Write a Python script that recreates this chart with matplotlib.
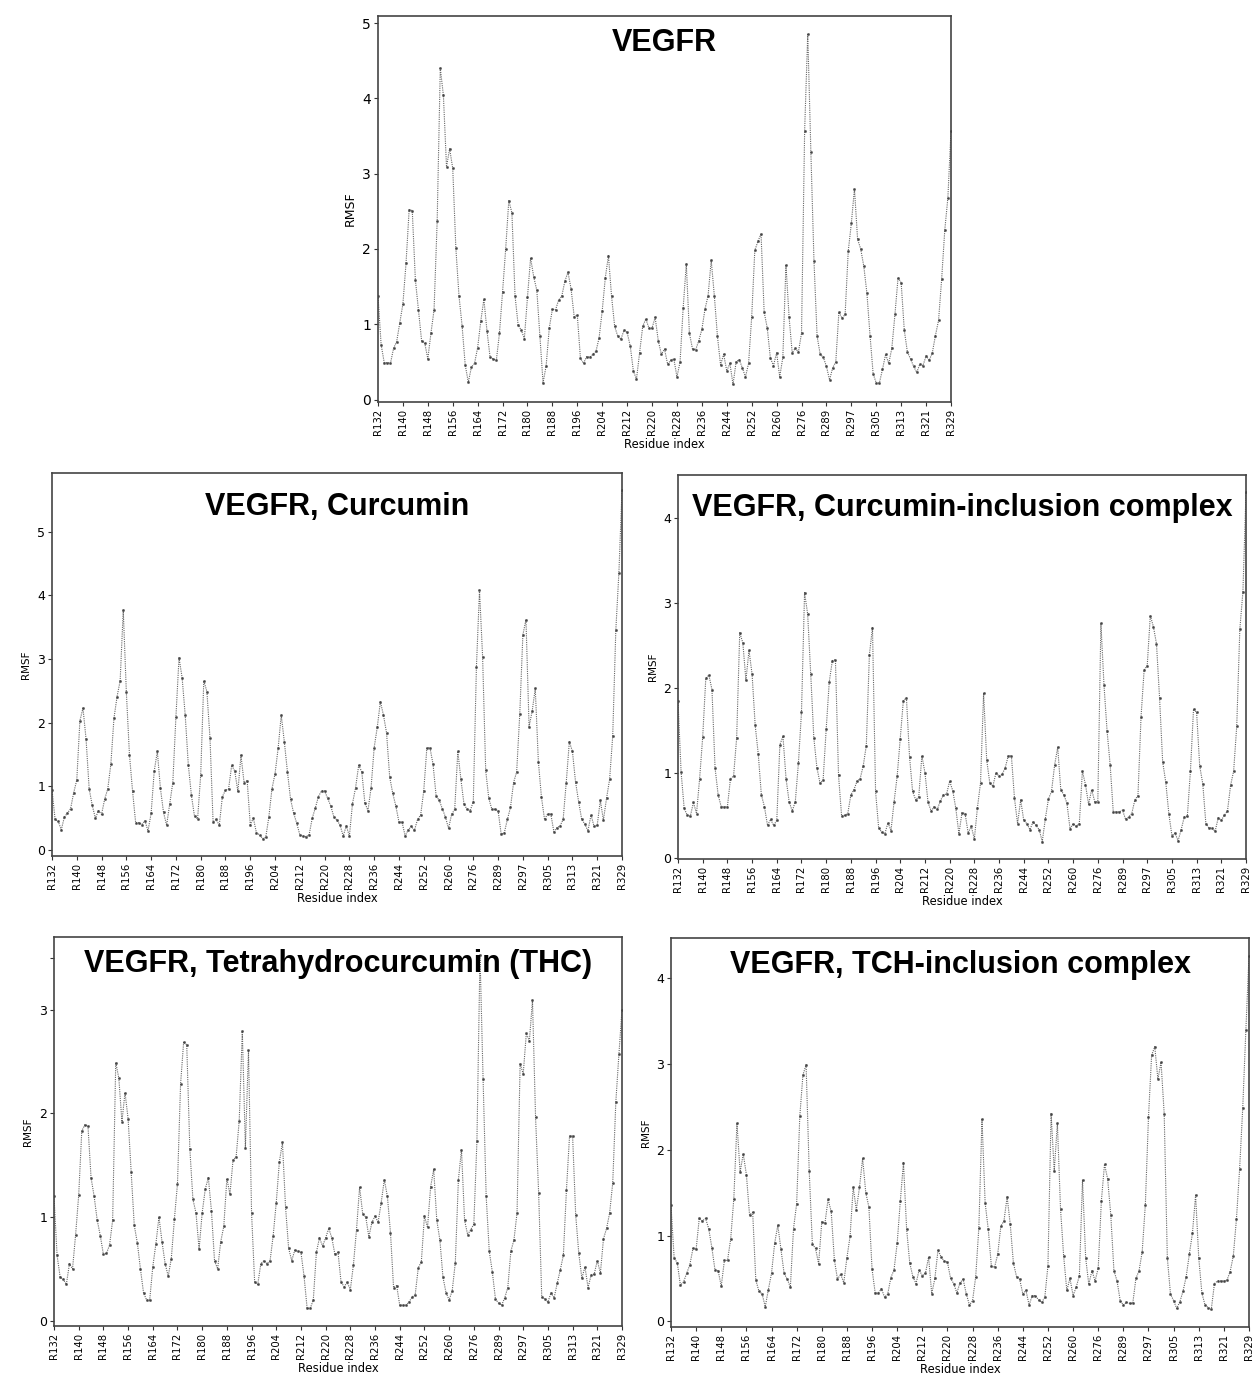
import matplotlib
matplotlib.use("Agg")
import matplotlib.pyplot as plt
import numpy as np

# ---------------- data ----------------
tick_labels = ["R132", "R140", "R148", "R156", "R164", "R172", "R180", "R188",
               "R196", "R204", "R212", "R220", "R228", "R236", "R244", "R252",
               "R260", "R276", "R289", "R297", "R305", "R313", "R321", "R329"]

rmsf_vegfr = [
    1.38, 0.73, 0.49, 0.49, 0.48, 0.68, 0.77, 1.02,
    1.27, 1.81, 2.52, 2.51, 1.59, 1.19, 0.78, 0.75,
    0.54, 0.88, 1.19, 2.37, 4.40, 4.04, 3.09, 3.33,
    3.07, 2.01, 1.38, 0.98, 0.46, 0.23, 0.43, 0.48,
    0.69, 1.04, 1.33, 0.91, 0.56, 0.54, 0.52, 0.88,
    1.43, 2.00, 2.64, 2.48, 1.38, 0.99, 0.92, 0.81,
    1.36, 1.88, 1.63, 1.45, 0.84, 0.22, 0.45, 0.95,
    1.20, 1.19, 1.32, 1.37, 1.57, 1.69, 1.47, 1.10,
    1.12, 0.55, 0.48, 0.57, 0.56, 0.60, 0.64, 0.82,
    1.18, 1.62, 1.91, 1.37, 0.97, 0.84, 0.80, 0.92,
    0.89, 0.71, 0.38, 0.27, 0.62, 0.97, 1.07, 0.95,
    0.95, 1.09, 0.78, 0.60, 0.67, 0.47, 0.52, 0.54,
    0.30, 0.50, 1.22, 1.80, 0.88, 0.67, 0.66, 0.78,
    0.93, 1.20, 1.38, 1.85, 1.38, 0.84, 0.46, 0.60,
    0.38, 0.48, 0.20, 0.50, 0.53, 0.42, 0.30, 0.48,
    1.10, 1.98, 2.10, 2.20, 1.16, 0.95, 0.55, 0.45,
    0.62, 0.30, 0.56, 1.79, 1.10, 0.62, 0.68, 0.63,
    0.88, 3.57, 4.86, 3.29, 1.84, 0.84, 0.60, 0.56,
    0.44, 0.26, 0.42, 0.50, 1.16, 1.08, 1.13, 1.97,
    2.34, 2.80, 2.13, 2.00, 1.77, 1.41, 0.85, 0.34,
    0.22, 0.22, 0.40, 0.60, 0.48, 0.68, 1.13, 1.62,
    1.55, 0.92, 0.63, 0.54, 0.44, 0.36, 0.47, 0.45,
    0.58, 0.52, 0.62, 0.85, 1.05, 1.60, 2.25, 2.68,
    3.57]

rmsf_curcumin = [
    0.95, 0.48, 0.45, 0.32, 0.52, 0.58, 0.65, 0.90,
    1.10, 2.03, 2.23, 1.74, 0.96, 0.70, 0.50, 0.62,
    0.56, 0.80, 0.96, 1.35, 2.07, 2.41, 2.66, 3.77,
    2.48, 1.50, 0.93, 0.43, 0.43, 0.40, 0.46, 0.30,
    0.58, 1.24, 1.55, 0.97, 0.59, 0.39, 0.72, 1.06,
    2.09, 3.02, 2.71, 2.12, 1.34, 0.86, 0.53, 0.49,
    1.18, 2.66, 2.49, 1.76, 0.44, 0.48, 0.39, 0.84,
    0.94, 0.96, 1.33, 1.24, 0.92, 1.49, 1.06, 1.09,
    0.40, 0.50, 0.27, 0.24, 0.18, 0.20, 0.52, 0.96,
    1.20, 1.60, 2.12, 1.70, 1.23, 0.80, 0.58, 0.42,
    0.24, 0.22, 0.21, 0.24, 0.50, 0.66, 0.84, 0.93,
    0.93, 0.81, 0.69, 0.52, 0.47, 0.39, 0.22, 0.38, 0.22, 0.73,
    0.98, 1.33, 1.23, 0.74, 0.62, 0.98, 1.61, 1.93, 2.33, 2.12,
    1.84, 1.15, 0.89, 0.69, 0.44, 0.44, 0.22, 0.32, 0.37, 0.31,
    0.48, 0.55, 0.93, 1.60, 1.61, 1.35, 0.85, 0.78, 0.65, 0.52,
    0.34, 0.56, 0.64, 1.55, 1.11, 0.72, 0.64, 0.62, 0.76, 2.87,
    4.08, 3.04, 1.25, 0.81, 0.64, 0.64, 0.62, 0.25, 0.27, 0.48,
    0.67, 1.06, 1.23, 2.14, 3.38, 3.62, 1.94, 2.18, 2.54, 1.39,
    0.83, 0.48, 0.57, 0.57, 0.29, 0.35, 0.38, 0.48, 1.06, 1.70,
    1.55, 1.07, 0.76, 0.48, 0.41, 0.30, 0.55, 0.37, 0.39, 0.78,
    0.47, 0.81, 1.11, 1.79, 3.45, 4.36, 5.65]

rmsf_curcumin_ic = [
    1.85, 1.01, 0.58, 0.50, 0.49, 0.65, 0.52, 0.93,
    1.42, 2.11, 2.15, 1.98, 1.06, 0.74, 0.60, 0.60,
    0.60, 0.93, 0.96, 1.41, 2.65, 2.53, 2.09, 2.44,
    2.16, 1.56, 1.22, 0.74, 0.60, 0.38, 0.45, 0.38,
    0.44, 1.33, 1.43, 0.93, 0.66, 0.55, 0.66, 1.11,
    1.71, 3.12, 2.87, 2.16, 1.41, 1.06, 0.88, 0.91,
    1.51, 2.07, 2.32, 2.33, 0.97, 0.49, 0.50, 0.52,
    0.74, 0.80, 0.90, 0.93, 1.08, 1.32, 2.39, 2.71,
    0.78, 0.35, 0.30, 0.28, 0.41, 0.32, 0.66, 0.96,
    1.40, 1.85, 1.88, 1.19, 0.78, 0.68, 0.72, 1.20,
    1.00, 0.65, 0.55, 0.60, 0.57, 0.67, 0.74, 0.75,
    0.90, 0.79, 0.58, 0.28, 0.53, 0.52, 0.29, 0.37, 0.22, 0.59,
    0.88, 1.94, 1.15, 0.88, 0.84, 1.00, 0.96, 0.98, 1.06, 1.20,
    1.20, 0.70, 0.40, 0.68, 0.44, 0.40, 0.33, 0.42, 0.38, 0.33,
    0.19, 0.46, 0.69, 0.78, 1.09, 1.30, 0.80, 0.74, 0.64, 0.34,
    0.40, 0.37, 0.40, 1.02, 0.86, 0.63, 0.80, 0.66, 0.66, 2.76,
    2.03, 1.49, 1.09, 0.54, 0.54, 0.54, 0.56, 0.45, 0.48, 0.52,
    0.68, 0.73, 1.66, 2.21, 2.26, 2.85, 2.72, 2.52, 1.88, 1.13,
    0.89, 0.52, 0.26, 0.29, 0.20, 0.33, 0.48, 0.49, 1.02, 1.75,
    1.71, 1.08, 0.87, 0.40, 0.35, 0.35, 0.31, 0.47, 0.44, 0.50,
    0.55, 0.85, 1.02, 1.55, 2.69, 3.13, 4.30]

rmsf_thc = [
    1.20, 0.63, 0.42, 0.40, 0.35, 0.55, 0.50, 0.83,
    1.21, 1.83, 1.89, 1.88, 1.38, 1.20, 0.97, 0.82,
    0.64, 0.65, 0.73, 0.97, 2.49, 2.34, 1.92, 2.20,
    1.95, 1.43, 0.92, 0.75, 0.50, 0.27, 0.20, 0.20,
    0.52, 0.74, 1.00, 0.76, 0.55, 0.43, 0.60, 0.98,
    1.32, 2.28, 2.69, 2.66, 1.66, 1.17, 1.04, 0.69,
    1.04, 1.27, 1.38, 1.06, 0.58, 0.50, 0.76, 0.91,
    1.37, 1.22, 1.55, 1.58, 1.93, 2.79, 1.67, 2.61,
    1.04, 0.37, 0.35, 0.55, 0.58, 0.55, 0.58, 0.82,
    1.14, 1.53, 1.72, 1.10, 0.70, 0.58, 0.68, 0.67,
    0.66, 0.43, 0.12, 0.12, 0.20, 0.66, 0.80, 0.72,
    0.80, 0.89, 0.80, 0.64, 0.66, 0.37, 0.33, 0.37, 0.30, 0.54,
    0.88, 1.29, 1.03, 1.00, 0.81, 0.95, 1.01, 0.95, 1.14, 1.36,
    1.20, 0.85, 0.32, 0.34, 0.15, 0.15, 0.15, 0.18, 0.23, 0.25,
    0.51, 0.57, 1.01, 0.90, 1.29, 1.46, 0.97, 0.78, 0.42, 0.27,
    0.20, 0.29, 0.56, 1.36, 1.65, 0.97, 0.83, 0.88, 0.93, 1.73,
    3.53, 2.33, 1.20, 0.67, 0.47, 0.21, 0.17, 0.15, 0.22, 0.32,
    0.67, 0.78, 1.04, 2.48, 2.38, 2.77, 2.70, 3.09, 1.96, 1.23,
    0.23, 0.21, 0.18, 0.27, 0.22, 0.36, 0.49, 0.63, 1.26, 1.78,
    1.78, 1.02, 0.65, 0.41, 0.52, 0.32, 0.44, 0.45, 0.58, 0.46,
    0.79, 0.89, 1.04, 1.33, 2.11, 2.57, 3.00]

rmsf_thc_ic = [
    1.35, 0.74, 0.68, 0.42, 0.46, 0.56, 0.66, 0.85,
    0.84, 1.20, 1.17, 1.20, 1.08, 0.86, 0.60, 0.59,
    0.41, 0.71, 0.71, 0.96, 1.43, 2.31, 1.74, 1.95,
    1.71, 1.24, 1.27, 0.48, 0.35, 0.32, 0.17, 0.37,
    0.56, 0.91, 1.12, 0.84, 0.56, 0.49, 0.40, 1.08,
    1.37, 2.39, 2.87, 2.99, 1.75, 0.90, 0.85, 0.67,
    1.16, 1.14, 1.42, 1.28, 0.72, 0.49, 0.55, 0.45,
    0.74, 0.99, 1.56, 1.30, 1.56, 1.90, 1.50, 1.33,
    0.61, 0.33, 0.33, 0.38, 0.28, 0.32, 0.51, 0.60,
    0.91, 1.40, 1.85, 1.08, 0.68, 0.52, 0.44, 0.60,
    0.53, 0.56, 0.75, 0.32, 0.50, 0.83, 0.75, 0.70,
    0.69, 0.50, 0.44, 0.33, 0.45, 0.49, 0.32, 0.19, 0.24, 0.52,
    1.09, 2.36, 1.38, 1.07, 0.64, 0.63, 0.78, 1.11, 1.17, 1.45,
    1.13, 0.68, 0.52, 0.49, 0.32, 0.36, 0.19, 0.30, 0.30, 0.25,
    0.22, 0.28, 0.65, 2.42, 1.75, 2.31, 1.31, 0.76, 0.36, 0.50,
    0.30, 0.40, 0.53, 1.65, 0.74, 0.43, 0.59, 0.47, 0.62, 1.40,
    1.83, 1.66, 1.24, 0.59, 0.47, 0.24, 0.19, 0.22, 0.21, 0.21,
    0.50, 0.59, 0.81, 1.36, 2.38, 3.10, 3.20, 2.82, 3.02, 2.42,
    0.74, 0.32, 0.24, 0.15, 0.23, 0.35, 0.52, 0.78, 1.03, 1.47,
    0.74, 0.33, 0.19, 0.16, 0.14, 0.44, 0.47, 0.47, 0.47, 0.48,
    0.58, 0.76, 1.19, 1.77, 2.48, 3.39, 4.26]

titles = ["VEGFR", "VEGFR, Curcumin", "VEGFR, Curcumin-inclusion complex",
          "VEGFR, Tetrahydrocurcumin (THC)", "VEGFR, TCH-inclusion complex"]
series = [rmsf_vegfr, rmsf_curcumin, rmsf_curcumin_ic, rmsf_thc, rmsf_thc_ic]

for s in series:
    assert len(s) == 185, len(s)

# ---------------- layout ----------------
W, H = 1256, 1397
fig = plt.figure(figsize=(W / 100, H / 100), dpi=100)

# pixel boxes: (x0, x1, y_top, y_bottom)
boxes = [(378, 951, 16, 402),
         (52, 622, 473, 856),
         (678, 1246, 475, 859),
         (54, 622, 937, 1326),
         (671, 1249, 938, 1327)]
title_y = [0.93, 0.91, 0.915, 0.93, 0.93]
ytick_sets = [[0, 1, 2, 3, 4, 5], [0, 1, 2, 3, 4, 5], [0, 1, 2, 3, 4],
              [0, 1, 2, 3, 3.5], [0, 1, 2, 3, 4]]
ytick_lbls = [["0", "1", "2", "3", "4", "5"], ["0", "1", "2", "3", "4", "5"],
              ["0", "1", "2", "3", "4"], ["0", "1", "2", "3", ""],
              ["0", "1", "2", "3", "4"]]

n = len(rmsf_vegfr)
x = np.arange(n)
tick_pos = np.arange(0, n, 8)

for k, (vals, title, box) in enumerate(zip(series, titles, boxes)):
    x0, x1, yt, yb = box
    ax = fig.add_axes([x0 / W, 1 - yb / H, (x1 - x0) / W, (yb - yt) / H])
    ax.plot(x, vals, linestyle=(0, (1, 1)), color="#666666", linewidth=0.8,
            marker="o", markersize=1.6, markerfacecolor="#444444",
            markeredgecolor="#444444", markeredgewidth=0.3)
    ax.set_xlim(0, n - 1)
    ax.margins(x=0, y=0.05)
    ax.set_xticks(tick_pos)
    ax.set_xticklabels(tick_labels, rotation=90, fontsize=7.3, family="DejaVu Sans")
    ax.set_yticks(ytick_sets[k])
    ax.set_yticklabels(ytick_lbls[k], fontsize=10 if k == 0 else 9,
                       family="DejaVu Sans")
    ax.tick_params(axis="both", length=3, width=0.8, color="#333333", pad=2)
    ax.set_xlabel("Residue index", fontsize=8.3, labelpad=2)
    ax.set_ylabel("RMSF", fontsize=9 if k == 0 else 7.5, labelpad=4)
    for sp in ax.spines.values():
        sp.set_color("#444444")
        sp.set_linewidth(1.2)
    ax.text(0.5, title_y[k], title, transform=ax.transAxes, ha="center",
            va="center", fontsize=22, fontweight="bold",
            family="Liberation Sans", color="black", zorder=5)

fig.savefig("out.png", dpi=100)
